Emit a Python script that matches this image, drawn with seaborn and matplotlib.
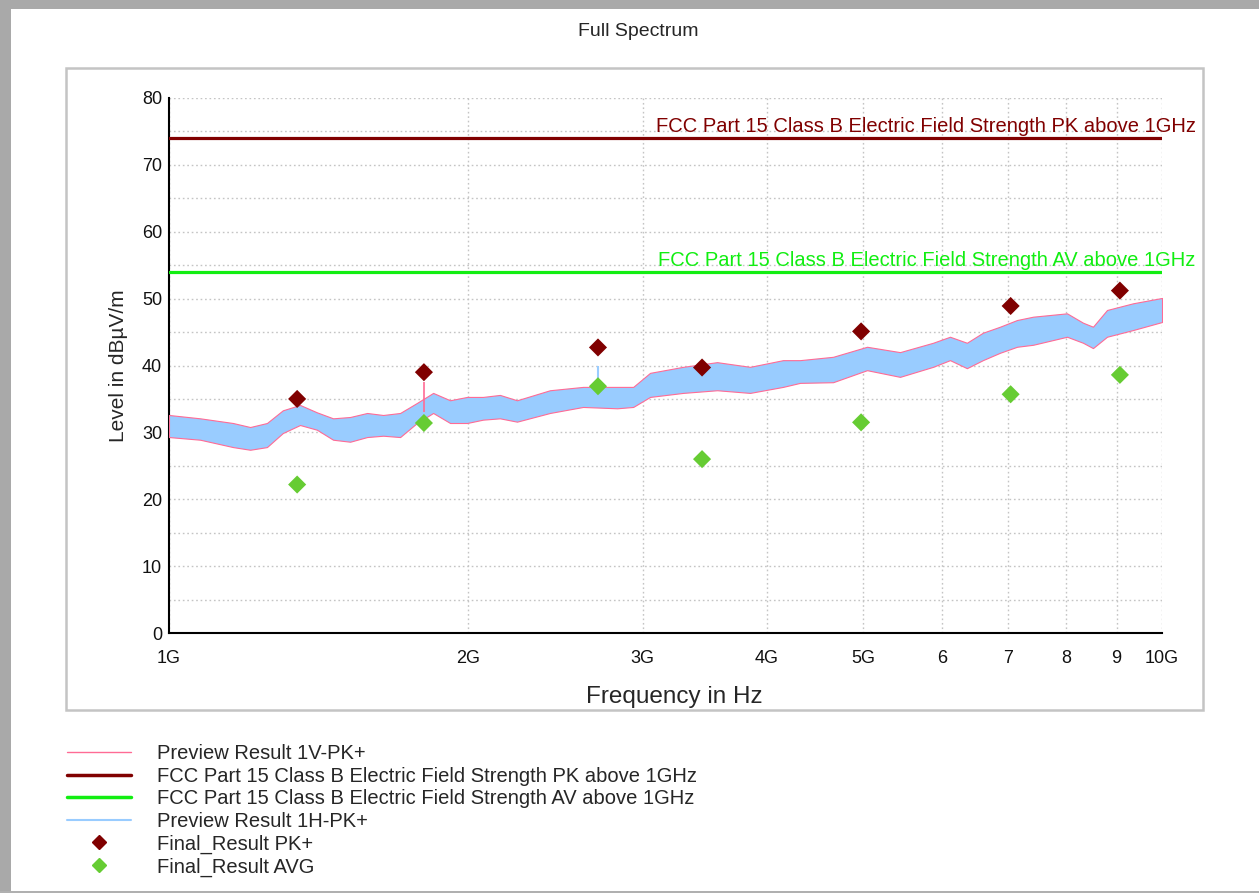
import matplotlib
matplotlib.use("Agg")

import numpy as np
import matplotlib.pyplot as plt
import matplotlib.patches as mpatches
from matplotlib.lines import Line2D
import seaborn as sns

sns.set_theme(style="white")
plt.rcParams['font.family'] = ['Liberation Sans', 'DejaVu Sans']

# preview scan envelope, GHz / dBuV/m
freq_ghz = [1.000, 1.075, 1.160, 1.207, 1.255, 1.302, 1.355, 1.409, 1.463, 1.522,
            1.583, 1.643, 1.709, 1.777, 1.845, 1.919, 1.996, 2.071, 2.154, 2.241,
            2.419, 2.612, 2.827, 2.934, 3.051, 3.294, 3.564, 3.847, 4.153, 4.320,
            4.664, 5.046, 5.447, 5.881, 6.116, 6.361, 6.601, 6.868, 7.145, 7.418,
            8.023, 8.326, 8.521, 8.803, 9.350, 10.00]
level_upper = [32.6, 32.1, 31.4, 30.8, 31.4, 33.3, 34.1, 33.0, 32.1, 32.3,
               32.9, 32.6, 32.9, 34.4, 35.9, 34.8, 35.3, 35.3, 35.6, 34.8,
               36.3, 36.8, 36.8, 36.8, 38.9, 39.8, 40.5, 39.8, 40.8, 40.8,
               41.3, 42.8, 42.0, 43.4, 44.3, 43.4, 44.9, 45.8, 46.8, 47.3,
               47.8, 46.4, 45.8, 48.3, 49.3, 50.1]
level_lower = [29.3, 28.9, 27.8, 27.4, 27.8, 29.9, 31.1, 30.4, 28.9, 28.6,
               29.3, 29.5, 29.3, 31.4, 32.9, 31.4, 31.4, 31.9, 32.1, 31.6,
               32.9, 33.8, 33.6, 33.8, 35.3, 35.9, 36.3, 35.9, 36.8, 37.4,
               37.5, 39.3, 38.3, 39.8, 40.8, 39.6, 40.8, 41.9, 42.8, 43.1,
               44.3, 43.4, 42.6, 44.3, 45.3, 46.5]

# single spikes
spike_v_ghz, spike_v_top = 1.806, 37.6
spike_h_ghz, spike_h_top = 2.704, 40.0

# final measurements
final_ghz = [1.346, 1.806, 2.704, 3.442, 4.977, 7.040, 9.070]
final_pk = [35.0, 39.0, 42.7, 39.7, 45.1, 48.9, 51.2]
final_avg = [22.2, 31.4, 36.9, 26.0, 31.5, 35.7, 38.6]

limit_pk = 74.0
limit_av = 54.0

C_PINK = '#ff6b95'
C_BLUE = '#99ccff'
C_DRED = '#800000'
C_LGREEN = '#11ee11'
C_AVG = '#66cc33'

PK_NAME = 'FCC Part 15 Class B Electric Field Strength PK above 1GHz'
AV_NAME = 'FCC Part 15 Class B Electric Field Strength AV above 1GHz'

W, H = 1259, 893
fig = plt.figure(figsize=(W / 100, H / 100), dpi=100)

# window frame and inner panel
fig.patches.append(mpatches.Rectangle((0, 1 - 9 / H), 1, 9 / H, transform=fig.transFigure,
                                      facecolor='#a9a9a9', edgecolor='none', zorder=-2))
fig.patches.append(mpatches.Rectangle((0, 0), 11 / W, 1, transform=fig.transFigure,
                                      facecolor='#a9a9a9', edgecolor='none', zorder=-2))
fig.patches.append(mpatches.Rectangle((0, 0), 1, 2 / H, transform=fig.transFigure,
                                      facecolor='#b0b0b0', edgecolor='none', zorder=-2))
fig.patches.append(mpatches.Rectangle((66 / W, 1 - 710 / H), (1203 - 66) / W, (710 - 68) / H,
                                      transform=fig.transFigure, facecolor='white',
                                      edgecolor='#c4c4c4', linewidth=1.8, zorder=-1))

fig.text(638 / W, 1 - 31 / H, 'Full Spectrum', ha='center', va='center', fontsize=14)

ax = fig.add_axes([169 / W, 1 - 633 / H, (1162 - 169) / W, (633 - 98) / H])
ax.set_zorder(2)
ax.set_facecolor('none')

# 1V and 1H traces overlap almost everywhere: blue band with the pink trace at its edges
fx = np.array(freq_ghz) * 1e9
ax.fill_between(fx, level_lower, level_upper, facecolor=C_BLUE, edgecolor=C_PINK,
                linewidth=0.8, zorder=3)
ax.vlines(spike_v_ghz * 1e9, 33, spike_v_top, color=C_PINK, linewidth=1.2, zorder=3)
ax.vlines(spike_h_ghz * 1e9, 35, spike_h_top, color=C_BLUE, linewidth=1.5, zorder=3)

lim_x = [1e9, 1e10]
sns.lineplot(x=lim_x, y=[limit_pk, limit_pk], ax=ax, color=C_DRED, linewidth=2.3, zorder=4)
sns.lineplot(x=lim_x, y=[limit_av, limit_av], ax=ax, color=C_LGREEN, linewidth=2.3, zorder=4)
ax.annotate(PK_NAME, xy=(1.034, limit_pk), xycoords=('axes fraction', 'data'),
            xytext=(0, 1.2), textcoords='offset points', ha='right', va='bottom',
            fontsize=14.5, color=C_DRED, annotation_clip=False)
ax.annotate(AV_NAME, xy=(1.034, limit_av), xycoords=('axes fraction', 'data'),
            xytext=(0, 1.2), textcoords='offset points', ha='right', va='bottom',
            fontsize=14.5, color=C_LGREEN, annotation_clip=False)

fin_x = np.array(final_ghz) * 1e9
sns.scatterplot(x=fin_x, y=final_pk, ax=ax, marker='D', s=85, color=C_DRED,
                edgecolor='none', zorder=5)
sns.scatterplot(x=fin_x, y=final_avg, ax=ax, marker='D', s=85, color=C_AVG,
                edgecolor='none', zorder=5)

ax.set_xscale('log')
ax.set_xlim(1e9, 1e10)
ax.set_ylim(0, 80)
xt = [i * 1e9 for i in range(1, 11)]
ax.set_xticks(xt)
ax.set_xticklabels(['1G', '2G', '3G', '4G', '5G', '6', '7', '8', '9', '10G'])
ax.xaxis.set_minor_locator(matplotlib.ticker.NullLocator())
ax.set_yticks(range(0, 81, 10))
ax.set_yticks(range(5, 80, 10), minor=True)
ax.tick_params(axis='both', which='both', direction='inout', length=8, width=1.2,
               color='black', labelsize=13, labelcolor='#111111')
ax.tick_params(axis='y', pad=1)
ax.tick_params(axis='x', pad=8)

ax.grid(True, which='both', linestyle=(0, (1.2, 2)), color='#c4c4c4', linewidth=1)
ax.set_axisbelow(True)
for s in ['top', 'right']:
    ax.spines[s].set_visible(False)
for s in ['left', 'bottom']:
    ax.spines[s].set_color('black')
    ax.spines[s].set_linewidth(1.5)

ax.set_xlabel('Frequency in Hz', fontsize=17.5)
ax.xaxis.set_label_coords(0.5086, -0.099)
ax.set_ylabel('Level in dBµV/m', fontsize=15, labelpad=10)

handles = [
    Line2D([], [], color=C_PINK, linewidth=1),
    Line2D([], [], color=C_DRED, linewidth=2.5),
    Line2D([], [], color=C_LGREEN, linewidth=2.5),
    Line2D([], [], color=C_BLUE, linewidth=1.5),
    Line2D([], [], color=C_DRED, marker='D', markersize=7.5, linestyle='none'),
    Line2D([], [], color=C_AVG, marker='D', markersize=7.5, linestyle='none'),
]
labels = ['Preview Result 1V-PK+', PK_NAME, AV_NAME, 'Preview Result 1H-PK+',
          'Final_Result PK+', 'Final_Result AVG']
fig.legend(handles, labels, loc='upper left', bbox_to_anchor=(63 / W, 1 - 740 / H),
           frameon=False, fontsize=14.5, handlelength=3.2, handletextpad=1.25,
           labelspacing=0.18, borderaxespad=0, borderpad=0.2)

fig.savefig('out.png', dpi=100)
plt.close(fig)
